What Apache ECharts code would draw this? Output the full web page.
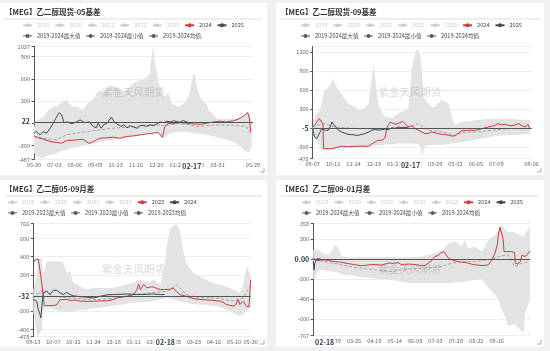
<!DOCTYPE html>
<html><head><meta charset="utf-8">
<script src="https://cdn.jsdelivr.net/npm/echarts@6/dist/echarts.min.js"></script>
<style>
html,body{margin:0;padding:0;background:#f0f0f0;width:550px;height:351px;overflow:hidden;}
.p{position:absolute;background:#fff;}
</style></head><body>
<div id="p1" class="p" style="left:0;top:3px;width:267px;height:172px"></div>
<div id="p2" class="p" style="left:276px;top:3px;width:268px;height:172px"></div>
<div id="p3" class="p" style="left:0;top:180px;width:267px;height:167px"></div>
<div id="p4" class="p" style="left:276px;top:180px;width:268px;height:167px"></div>
<script>
// ---- category helpers (calendar days, MM-DD) ----
function mmdd(y, m, d, n) {
  const out = [], t0 = Date.UTC(y, m - 1, d);
  for (let i = 0; i < n; i++) {
    const dt = new Date(t0 + i * 86400000);
    out.push(String(dt.getUTCMonth() + 1).padStart(2, '0') + '-' + String(dt.getUTCDate()).padStart(2, '0'));
  }
  return out;
}

// ================= Panel 1: 乙二醇现货-05基差 =================
const P1_TITLE = '【MEG】乙二醇现货-05基差';
const P1_CATS = mmdd(2023, 5, 30, 366);
const P1_TICKS = ['05-30','07-03','08-06','09-09','10-13','11-16','12-20','01-23','02-26','03-31','05-29'];
const P1_Y = [-487, 1037];
const P1_PTR_DATE = '02-17', P1_PTR_VALUE = 22;
// [day index, value]
const P1_RED = [[0,-168],[4,-186],[16,-213],[27,-244],[38,-258],[46,-267],[54,-231],[71,-222],[82,-213],[91,-267],[96,-258],[104,-222],[110,-200],[121,-195],[132,-186],[143,-200],[154,-177],[166,-168],[177,-155],[188,-141],[199,-132],[207,-123],[214,-186],[218,-43],[224,2],[227,25],[232,-7],[243,11],[254,2],[266,-7],[277,-11],[288,2],[299,20],[310,29],[321,20],[332,34],[340,56],[346,83],[352,114],[356,146],[359,70],[361,-110]];
const P1_NAVY = [[0,-132],[4,-110],[10,-155],[15,-110],[21,-132],[27,-65],[32,3],[38,92],[42,145],[46,114],[50,11],[56,20],[62,-5],[70,15],[77,47],[84,10],[92,20],[99,-43],[104,-60],[107,3],[112,-65],[117,-10],[121,-5],[129,83],[134,20],[138,-5],[145,-40],[150,-20],[155,-60],[160,-30],[166,-50],[172,-65],[177,-30],[182,-25],[188,-40],[193,-20],[199,-30],[204,-10],[210,20],[216,10],[221,30],[227,20],[232,35],[238,25],[243,15],[249,40],[254,20],[260,10]];
const P1_MEAN = [[0,-177],[16,-200],[38,-222],[54,-155],[71,-130],[88,-110],[110,-87],[132,-65],[166,-43],[199,-20],[221,-30],[238,3],[254,-10],[271,-43],[290,-30],[304,-20],[332,-25],[354,-43],[361,-140]];
// [day index, min, max]
const P1_BAND = [[0,-400,-50],[5,-440,50],[10,-460,60],[16,-470,90],[21,-440,150],[27,-420,200],[32,-420,220],[38,-400,230],[43,-380,260],[49,-370,290],[54,-357,316],[60,-340,250],[66,-330,220],[71,-320,230],[77,-310,200],[82,-300,182],[88,-289,260],[93,-280,300],[99,-270,330],[104,-260,400],[110,-250,451],[116,-240,420],[121,-230,470],[129,-220,518],[138,-210,480],[146,-200,430],[154,-190,450],[160,-185,500],[166,-177,540],[172,-170,560],[177,-160,585],[182,-150,600],[188,-145,620],[193,-140,680],[196,-135,900],[199,-130,1037],[202,-125,800],[207,-125,585],[213,-190,400],[218,-190,360],[224,-140,420],[229,-130,272],[235,-120,240],[243,-110,222],[249,-120,260],[254,-110,320],[260,-120,420],[263,-130,585],[266,-130,650],[268,-140,680],[271,-140,500],[277,-140,360],[282,-140,300],[288,-150,250],[291,-160,182],[299,-177,120],[304,-180,70],[310,-200,60],[321,-220,55],[332,-250,60],[343,-300,70],[349,-357,100],[354,-380,150],[359,-390,150],[363,-300,20]];

// ================= Panel 2: 乙二醇现货-09基差 =================
const P2_TITLE = '【MEG】乙二醇现货-09基差';
const P2_CATS = mmdd(2023, 9, 7, 366);
const P2_TICKS = ['09-07','10-11','11-14','12-18','01-21','02-24','03-29','05-02','06-05','07-09','09-06'];
const P2_Y = [-476, 1290];
const P2_PTR_DATE = '02-17', P2_PTR_VALUE = -5;
const P2_RED = [[0,21],[4,60],[7,100],[11,153],[13,130],[15,100],[17,60],[18,-321],[21,-321],[26,-321],[32,-321],[34,-305],[40,-300],[48,-284],[60,-290],[71,-284],[82,-280],[93,-284],[98,-250],[104,-216],[109,-189],[115,-189],[121,-150],[123,-5],[126,20],[129,100],[132,90],[137,63],[143,80],[146,100],[150,110],[154,74],[159,21],[165,40],[168,47],[171,-5],[176,-30],[182,-58],[187,-84],[193,-80],[198,-58],[204,-70],[209,-84],[215,-95],[221,-100],[226,-111],[232,-121],[237,-120],[240,-100],[248,-40],[259,-32],[271,-32],[282,-5],[293,21],[298,30],[304,47],[309,74],[315,55],[321,63],[326,47],[332,40],[338,55],[343,74],[349,40],[354,21],[359,60],[362,-5]];
const P2_NAVY = [[0,-5],[3,-137],[5,-150],[7,-160],[9,-120],[12,-150],[15,-5],[18,-20],[21,-32],[26,-30],[30,40],[32,100],[35,60],[37,47],[43,-32],[48,-58],[54,-80],[59,-95],[65,-100],[71,-106],[76,-111],[82,-95],[87,-84],[93,-60],[98,-32],[104,-15],[109,-30],[115,-20],[121,-10],[126,-25],[132,10],[137,0],[143,21],[148,10],[154,15],[159,5],[162,-5]];
const P2_MEAN = [[0,21],[18,74],[37,21],[76,-5],[132,-5],[159,21],[176,74],[193,-32],[215,-58],[237,-111],[248,-70],[271,-58],[298,-32],[326,-5],[362,-5]];
const P2_BAND = [[0,-84,21],[3,-150,150],[7,-200,250],[12,-280,284],[15,-330,400],[18,-347,548],[21,-347,600],[26,-340,653],[30,-330,700],[34,-330,785],[37,-330,700],[43,-325,600],[48,-320,547],[54,-315,450],[59,-310,389],[65,-305,360],[71,-300,337],[76,-300,300],[82,-295,284],[87,-290,320],[93,-290,389],[98,-285,758],[101,-280,995],[104,-275,810],[109,-270,389],[115,-268,250],[121,-255,178],[126,-250,170],[132,-250,160],[137,-245,200],[143,-240,232],[148,-240,260],[154,-237,284],[159,-240,300],[162,-240,600],[165,-240,916],[168,-240,1074],[171,-245,1200],[176,-250,1250],[180,-300,1100],[182,-453,900],[184,-280,547],[187,-270,450],[193,-265,389],[198,-262,337],[204,-260,337],[209,-260,400],[215,-263,450],[221,-255,420],[226,-250,389],[229,-245,300],[232,-240,151],[237,-237,60],[248,-220,100],[259,-200,110],[271,-180,126],[282,-160,140],[293,-140,150],[304,-125,153],[315,-115,150],[326,-110,153],[343,-100,140],[354,-95,130],[362,-90,126]];

// ================= Panel 3: 乙二醇05-09月差 =================
const P3_TITLE = '【MEG】乙二醇05-09月差';
const P3_CATS = mmdd(2023, 9, 13, 261);
const P3_TICKS = ['09-13','10-07','10-31','11-24','12-18','01-11','02-04','02-28','03-23','04-16','05-10','05-30'];
const P3_Y = [-478, 766];
const P3_PTR_DATE = '02-18', P3_PTR_VALUE = -32;
const P3_RED = [[0,330],[2,364],[4,370],[6,374],[8,366],[9,184],[11,184],[12,-35],[13,-137],[16,-137],[20,-137],[24,-137],[28,-130],[30,-115],[32,-71],[36,-71],[40,-71],[44,-80],[48,-80],[52,-78],[56,-90],[60,-88],[64,-90],[72,-90],[80,-86],[88,-85],[96,-71],[100,-53],[106,-45],[112,-35],[116,-25],[120,-16],[124,38],[126,100],[128,38],[132,93],[136,57],[140,67],[144,67],[148,50],[152,38],[157,40],[159,38],[163,40],[167,56],[171,20],[175,-16],[183,-35],[191,-60],[199,-71],[207,-75],[215,-80],[219,-85],[223,-89],[227,-100],[231,-126],[235,-135],[239,-144],[242,-130],[243,-110],[245,-71],[247,-126],[249,-110],[251,-89],[255,-144],[258,-151],[259,0],[260,148]];
const P3_NAVY = [[0,-71],[2,-71],[4,-89],[6,-180],[8,-235],[9,-271],[11,-71],[12,2],[16,20],[20,-16],[24,31],[28,31],[32,2],[36,-16],[40,9],[44,-16],[48,-30],[56,-40],[64,-45],[72,-53],[80,-35],[88,-20],[96,-16],[112,-10],[128,-16],[144,-10],[152,-16],[157,-16]];
const P3_MEAN = [[0,-53],[12,38],[24,-35],[40,-53],[60,-65],[80,-71],[100,-53],[120,-16],[140,2],[159,20],[167,60],[171,93],[175,60],[183,-16],[199,-53],[219,-53],[239,-89],[251,-53],[259,75]];
const P3_BAND = [[0,-217,38],[2,-300,100],[4,-435,184],[6,-478,380],[8,-440,374],[10,-399,374],[12,-180,200],[16,-160,348],[20,-170,350],[24,-180,350],[28,-190,350],[32,-199,348],[36,-205,330],[40,-210,220],[44,-205,239],[48,-200,111],[56,-190,75],[64,-180,38],[72,-170,60],[80,-160,56],[88,-150,56],[96,-140,60],[104,-130,75],[112,-115,100],[120,-108,111],[128,-100,148],[136,-95,111],[144,-90,148],[152,-70,93],[157,-53,300],[159,-53,475],[163,-60,694],[167,-70,740],[171,-80,760],[175,-90,700],[177,-95,600],[179,-100,475],[183,-110,330],[191,-120,220],[199,-126,184],[207,-130,148],[215,-140,111],[223,-150,93],[231,-180,75],[239,-217,38],[247,-253,2],[251,-230,100],[255,-200,293],[257,-180,257],[260,-160,200]];

// ================= Panel 4: 乙二醇09-01月差 =================
const P4_TITLE = '【MEG】乙二醇09-01月差';
const P4_CATS = mmdd(2024, 2, 4, 267);
const P4_TICKS = ['02-29','03-25','04-19','05-14','06-08','07-03','07-28','08-22','09-16'];
const P4_Y = [-767, 358];
const P4_PTR_DATE = '02-18', P4_PTR_VALUE = 0;
const P4_RED = [[0,10],[2,30],[6,-17],[10,-5],[14,-7],[19,-14],[23,-20],[27,-24],[31,-30],[35,-30],[39,-40],[43,-45],[47,-50],[51,-57],[55,-60],[59,-67],[63,-64],[68,-57],[72,-55],[76,-54],[80,-58],[84,-60],[88,-50],[92,-40],[96,-40],[100,-42],[104,-34],[108,-54],[112,-52],[117,-50],[121,-52],[125,-54],[129,-60],[133,-67],[137,-64],[141,-40],[145,-17],[149,26],[153,36],[156,60],[158,66],[160,76],[162,60],[166,10],[170,-7],[174,-17],[178,-24],[182,-30],[186,-34],[190,-40],[194,-50],[198,-57],[203,-60],[207,-64],[211,-62],[215,-57],[219,-7],[223,60],[226,150],[227,243],[229,320],[230,340],[231,300],[233,200],[234,76],[237,76],[240,76],[243,76],[245,76],[247,66],[248,-40],[251,-50],[254,-24],[256,40],[258,30],[260,26],[263,53],[266,83]];
const P4_NAVY = [[0,-20],[1,-110],[2,-40],[4,0],[7,5],[10,-5],[13,-10]];
const P4_MEAN = [[2,-7],[14,-24],[35,-57],[55,-90],[76,-107],[96,-124],[117,-100],[137,-90],[158,-74],[170,-40],[182,-24],[198,-24],[215,-7],[227,26],[239,43],[247,-74],[256,-40],[264,-24]];
const P4_BAND = [[0,-200,93],[2,-200,93],[6,-110,93],[14,-110,50],[19,-120,43],[23,-125,90],[27,-130,143],[31,-140,110],[35,-157,26],[43,-160,20],[55,-174,20],[68,-190,20],[84,-200,20],[100,-215,20],[117,-240,20],[133,-240,26],[149,-240,60],[158,-240,93],[166,-240,160],[174,-235,176],[182,-230,126],[186,-225,193],[190,-220,110],[198,-207,126],[207,-200,76],[215,-290,193],[219,-323,226],[223,-350,240],[227,-407,280],[231,-500,350],[235,-574,300],[239,-673,270],[243,-660,276],[247,-657,270],[251,-690,250],[254,-707,240],[258,-740,226],[260,-540,260],[264,-407,300],[266,-400,340]];

// ---- styling ----
const RED = '#cf3a3a', NAVY = '#34495a', DARK = '#5a5a5a', BAND = '#e3e3e3';
const FONT = 'Noto Sans CJK SC';

function makeOption(c) {
  const W = c.w, H = c.h;
  const tickSet = new Set(c.ticks);
  const bMax = c.bandName + '最大值', bMin = c.bandName + '最小值', bMean = c.bandName + '均值';
  const names = [...c.grey, c.redName, c.navyName, bMax, bMin, bMean];
  const selected = {};
  c.grey.forEach(n => selected[n] = false);
  const legendData = names.map(n => (n === bMax || n === bMin || n === bMean)
    ? {name: n, itemStyle: {color: DARK}, lineStyle: {color: DARK, opacity: 1, type: 'solid', width: 1}}
    : {name: n});
  const ptrLabel = {show: true, backgroundColor: '#fff', color: '#2f4050', fontWeight: 'bold', fontSize: 7,
    fontFamily: FONT, padding: [1, 1.5], borderWidth: 0, shadowBlur: 0, margin: 2.5};
  const series = [];
  c.grey.forEach(n => series.push({name: n, type: 'line', data: [], symbol: 'circle', showSymbol: false, itemStyle: {color: '#ccc'}}));
  series.push({name: bMin, type: 'line', stack: 'band', stackStrategy: 'all', data: c.band.map(r => [r[0], r[1]]),
    symbol: 'circle', showSymbol: false, itemStyle: {color: DARK}, lineStyle: {width: 0, opacity: 0}, z: 1});
  series.push({name: bMax, type: 'line', stack: 'band', stackStrategy: 'all', data: c.band.map(r => [r[0], r[2] - r[1]]),
    symbol: 'circle', showSymbol: false, itemStyle: {color: DARK}, lineStyle: {width: 0, opacity: 0},
    areaStyle: {color: BAND, opacity: 1}, z: 1});
  series.push({name: bMean, type: 'line', data: c.mean, symbol: 'circle', showSymbol: false,
    itemStyle: {color: DARK}, lineStyle: {color: '#a3a3a3', width: 1, type: [3, 2]}, z: 3});
  series.push({name: c.redName, type: 'line', data: c.red, symbol: 'circle', showSymbol: false,
    itemStyle: {color: RED}, lineStyle: {color: RED, width: 1}, z: 4});
  series.push({name: c.navyName, type: 'line', data: c.navy, symbol: 'circle', showSymbol: false,
    itemStyle: {color: NAVY}, lineStyle: {color: NAVY, width: 1}, z: 5});
  const yLabel = {fontSize: 5.6, color: '#666', margin: 4, fontFamily: FONT, formatter: v => String(v)};
  if (c.hideMax) yLabel.showMaxLabel = false;
  return {
    animation: false,
    textStyle: {fontFamily: FONT},
    title: {text: c.title, left: 5, top: 5, padding: 0,
      textStyle: {fontSize: 7.5, fontWeight: 'bold', color: '#333', fontFamily: FONT}},
    legend: {left: c.legendLeft, top: 19.5, width: c.legendWidth, padding: 0, itemWidth: 9, itemHeight: 5, itemGap: 5,
      textStyle: {fontSize: 5.6, color: '#444', fontFamily: FONT}, inactiveColor: '#ccc',
      selected: selected, data: legendData},
    grid: Object.assign({containLabel: false, outerBoundsMode: 'none'}, c.grid),
    xAxis: {type: 'category', data: c.cats, boundaryGap: false,
      axisLine: {show: true, lineStyle: {color: '#ccc'}}, axisTick: {show: false},
      axisLabel: {fontSize: 5.6, color: '#666', margin: 3, fontFamily: FONT, interval: (i, v) => tickSet.has(v)},
      splitLine: {show: false},
      axisPointer: {show: true, status: 'show', value: c.cats.indexOf(c.ptrDate), type: 'line', triggerTooltip: false,
        lineStyle: {color: 'rgba(0,0,0,0)', width: 0}, label: ptrLabel}},
    yAxis: {type: 'value', min: c.y[0], max: c.y[1],
      axisLine: {show: true, lineStyle: {color: '#555'}},
      axisTick: {show: true, length: 2.5, lineStyle: {color: '#555'}},
      axisLabel: yLabel,
      splitLine: {show: true, lineStyle: {color: '#eeeeee', width: 1}},
      axisPointer: {show: true, status: 'show', value: c.ptrValue, type: 'line', triggerTooltip: false,
        lineStyle: {color: '#555', width: 1, type: 'solid'},
        label: Object.assign({}, ptrLabel, {formatter: p => c.ptrFmt(p.value)})}},
    graphic: [
      {type: 'line', silent: true, shape: {x1: 5, y1: 16, x2: W - 5, y2: 16}, style: {stroke: '#dddddd', lineWidth: 1}},
      {type: 'text', silent: true, left: 'center', top: 84, z: 100,
        style: {text: '紫金天风期货', fontSize: 10.5, fontFamily: FONT, fill: 'rgba(120,120,120,0.28)'}},
      {type: 'polyline', silent: true, shape: {points: [[W - 7, H - 3], [W - 3, H - 3], [W - 3, H - 7]]},
        style: {stroke: '#999', lineWidth: 0.8, fill: null}}
    ],
    series: series
  };
}

const GREY_A = ['2019', '2020', '2021', '2022', '2023'];
const GREY_B = ['2019', '2020', '2021', '2022'];
const intFmt = v => String(Math.round(v));

const panels = [
  {id: 'p1', w: 267, h: 172, title: P1_TITLE, cats: P1_CATS, ticks: P1_TICKS, y: P1_Y, ptrDate: P1_PTR_DATE, ptrValue: P1_PTR_VALUE,
    ptrFmt: intFmt, red: P1_RED, navy: P1_NAVY, mean: P1_MEAN, band: P1_BAND, grey: GREY_A, redName: '2024', navyName: '2025',
    bandName: '2019-2024', legendLeft: 22, legendWidth: 240, grid: {left: 34, right: 14, top: 43.5, bottom: 15.5}},
  {id: 'p2', w: 268, h: 172, title: P2_TITLE, cats: P2_CATS, ticks: P2_TICKS, y: P2_Y, ptrDate: P2_PTR_DATE, ptrValue: P2_PTR_VALUE,
    ptrFmt: intFmt, red: P2_RED, navy: P2_NAVY, mean: P2_MEAN, band: P2_BAND, grey: GREY_A, redName: '2024', navyName: '2025',
    bandName: '2019-2024', legendLeft: 24, legendWidth: 240, hideMax: true, grid: {left: 36.7, right: 12.3, top: 43.5, bottom: 16.5}},
  {id: 'p3', w: 267, h: 167, title: P3_TITLE, cats: P3_CATS, ticks: P3_TICKS, y: P3_Y, ptrDate: P3_PTR_DATE, ptrValue: P3_PTR_VALUE,
    ptrFmt: intFmt, red: P3_RED, navy: P3_NAVY, mean: P3_MEAN, band: P3_BAND, grey: GREY_B, redName: '2023', navyName: '2024',
    bandName: '2019-2023', legendLeft: 7, legendWidth: 252, grid: {left: 33.3, right: 16.3, top: 43.5, bottom: 10.5}},
  {id: 'p4', w: 268, h: 167, title: P4_TITLE, cats: P4_CATS, ticks: P4_TICKS, y: P4_Y, ptrDate: P4_PTR_DATE, ptrValue: P4_PTR_VALUE,
    ptrFmt: v => Number(v).toFixed(2), red: P4_RED, navy: P4_NAVY, mean: P4_MEAN, band: P4_BAND, grey: GREY_A, redName: '2024', navyName: '2025',
    bandName: '2019-2024', legendLeft: 25, legendWidth: 240, grid: {left: 37.2, right: 13.9, top: 43.5, bottom: 11.5}}
];

panels.forEach(c => {
  const chart = echarts.init(document.getElementById(c.id), null, {renderer: 'canvas'});
  chart.setOption(makeOption(c));
});
</script>
</body></html>
